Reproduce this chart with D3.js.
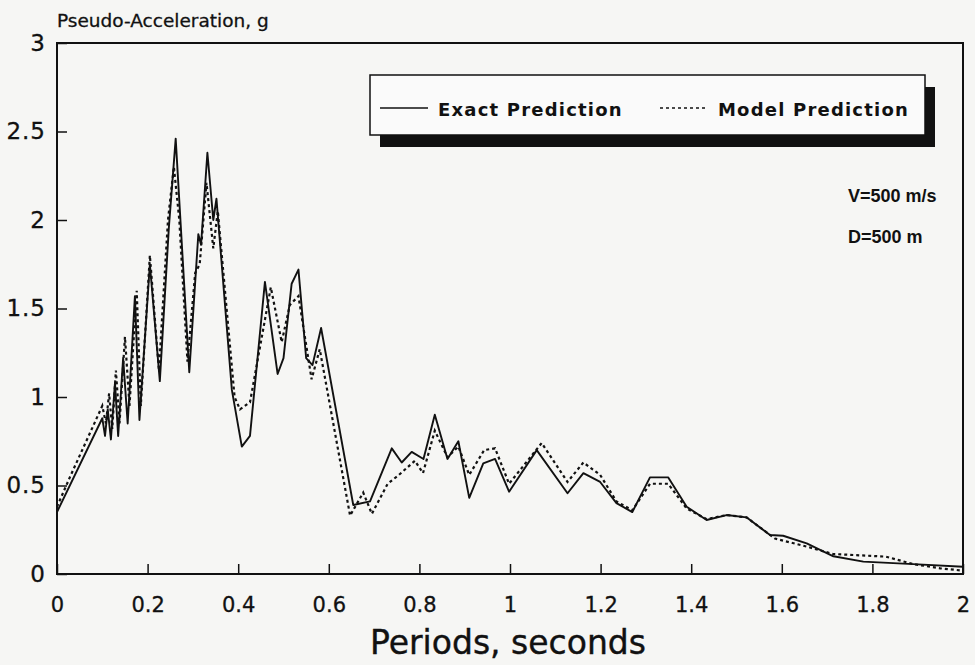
<!DOCTYPE html>
<html>
<head>
<meta charset="utf-8">
<script src="https://cdn.jsdelivr.net/npm/d3@7"></script>
<style>
  body { margin: 0; background: #f6f6f4; }
  text { font-family: "DejaVu Sans", sans-serif; fill: #111; }
</style>
</head>
<body>
<div id="cnt"></div>
<script>
// periods (s) and pseudo-acceleration (g)
let exactT = [0, 0.1, 0.106, 0.112, 0.119, 0.128, 0.135, 0.146, 0.156, 0.172, 0.182, 0.205, 0.227, 0.247, 0.262,
  0.292, 0.312, 0.318, 0.332, 0.345, 0.352, 0.386, 0.408, 0.426, 0.459, 0.487, 0.5, 0.518, 0.533, 0.55, 0.564,
  0.583, 0.654, 0.691, 0.739, 0.761, 0.783, 0.809, 0.834, 0.862, 0.886, 0.91, 0.941, 0.967, 0.998, 1.059, 1.127,
  1.162, 1.199, 1.235, 1.27, 1.309, 1.349, 1.39, 1.434, 1.478, 1.522, 1.574, 1.603, 1.655, 1.714, 1.78, 1.89, 2.0];
let exactA = [0.35, 0.88, 0.78, 0.93, 0.76, 1.08, 0.78, 1.22, 0.85, 1.57, 0.87, 1.75, 1.09, 1.96, 2.46,
  1.14, 1.92, 1.86, 2.38, 2.0, 2.12, 1.04, 0.72, 0.78, 1.65, 1.13, 1.22, 1.64, 1.72, 1.22, 1.18,
  1.39, 0.39, 0.41, 0.71, 0.63, 0.69, 0.65, 0.9, 0.65, 0.75, 0.43, 0.625, 0.65, 0.465, 0.7, 0.456,
  0.57, 0.52, 0.4, 0.35, 0.546, 0.546, 0.38, 0.305, 0.333, 0.32, 0.22, 0.216, 0.173, 0.1, 0.07, 0.056, 0.041];

let modelT = [0, 0.029, 0.1, 0.108, 0.115, 0.122, 0.13, 0.138, 0.15, 0.16, 0.176, 0.185, 0.205, 0.225, 0.245,
  0.258, 0.27, 0.288, 0.305, 0.315, 0.33, 0.345, 0.355, 0.392, 0.404, 0.426, 0.472, 0.496, 0.514, 0.533, 0.562,
  0.58, 0.647, 0.676, 0.695, 0.73, 0.755, 0.79, 0.808, 0.834, 0.862, 0.886, 0.91, 0.943, 0.967, 0.998, 1.07,
  1.127, 1.162, 1.199, 1.235, 1.27, 1.309, 1.349, 1.39, 1.434, 1.478, 1.522, 1.585, 1.655, 1.713, 1.83, 1.89, 1.95, 2.0];
let modelA = [0.38, 0.55, 0.95, 0.85, 1.02, 0.82, 1.15, 0.85, 1.34, 0.95, 1.6, 0.95, 1.8, 1.15, 2.0,
  2.3, 2.0, 1.2, 1.7, 1.75, 2.21, 1.84, 2.05, 1.0, 0.93, 0.97, 1.62, 1.31, 1.52, 1.57, 1.1,
  1.27, 0.33, 0.46, 0.34, 0.51, 0.56, 0.64, 0.57, 0.81, 0.66, 0.72, 0.56, 0.7, 0.71, 0.51, 0.74,
  0.52, 0.63, 0.56, 0.41, 0.36, 0.51, 0.51, 0.37, 0.31, 0.333, 0.32, 0.2, 0.155, 0.113, 0.098, 0.056, 0.032, 0.019];

let xTicks = [0, 0.2, 0.4, 0.6, 0.8, 1, 1.2, 1.4, 1.6, 1.8, 2];
let yTicks = [0, 0.5, 1, 1.5, 2, 2.5, 3];
let nombres = ["Exact Prediction", "Model Prediction"];
let notas = ["V=500 m/s", "D=500 m"];

let ancho = 975;
let largo = 665;
let m = {left: 57, right: 963, top: 43, bottom: 574};

let svg = d3.select('#cnt')
  .append("svg")
  .attr('width', ancho)
  .attr('height', largo);

let x = d3.scaleLinear().domain([0, 2]).range([m.left, m.right]);
let y = d3.scaleLinear().domain([0, 3]).range([m.bottom, m.top]);

// ejes con ticks hacia dentro
let ejeX = svg.append("g")
  .attr("transform", "translate(0," + m.bottom + ")")
  .call(d3.axisBottom(x).tickValues(xTicks).tickSize(-10).tickPadding(20)
    .tickFormat(d => d3.format("")(d)));
let ejeY = svg.append("g")
  .attr("transform", "translate(" + m.left + ",0)")
  .call(d3.axisLeft(y).tickValues(yTicks).tickSize(-10).tickPadding(10)
    .tickFormat(d => d3.format("")(d)));

[ejeX, ejeY].forEach(e => {
  e.select(".domain").remove();
  e.selectAll("line").attr("stroke", "#111").attr("stroke-width", 1.5);
  e.selectAll("text").style("font-size", "21px").style("font-family", "DejaVu Sans, sans-serif")
    .attr("fill", "#111").attr("stroke", "#111").attr("stroke-width", 0.3);
});
ejeX.selectAll("text").attr("dy", "0.71em").attr("y", 23);
ejeY.selectAll("text").attr("x", -11).style("font-size", "23px").style("letter-spacing", "1px");

// marco
svg.append("rect")
  .attr('x', m.left)
  .attr('y', m.top)
  .attr('width', m.right - m.left)
  .attr('height', m.bottom - m.top)
  .style('fill', 'none')
  .style('stroke', '#111')
  .style('stroke-width', 2);

let linea = d3.line().x(d => x(d[0])).y(d => y(d[1]));

svg.append("path")
  .datum(d3.zip(exactT, exactA))
  .attr("d", linea)
  .attr("fill", "none")
  .attr("stroke", "#111")
  .attr("stroke-width", 1.9)
  .attr("stroke-linejoin", "round");

svg.append("path")
  .datum(d3.zip(modelT, modelA))
  .attr("d", linea)
  .attr("fill", "none")
  .attr("stroke", "#111")
  .attr("stroke-width", 2.2)
  .attr("stroke-dasharray", "3,3");

// titulos
svg.append("text")
  .text("Pseudo-Acceleration, g")
  .attr("x", 57)
  .attr("y", 27)
  .style("font-size", "18.5px")
  .attr("stroke", "#111").attr("stroke-width", 0.3);

svg.append("text")
  .text("Periods, seconds")
  .attr("x", (m.left + m.right) / 2 - 2)
  .attr("y", 654)
  .attr("text-anchor", "middle")
  .style("font-size", "33px")
  .attr("stroke", "#111").attr("stroke-width", 0.4);

// leyenda con sombra
svg.append("rect")
  .attr('x', 380).attr('y', 87)
  .attr('width', 555).attr('height', 60)
  .style('fill', '#111');
svg.append("rect")
  .attr('x', 370).attr('y', 75)
  .attr('width', 555).attr('height', 60)
  .style('fill', '#fafafa')
  .style('stroke', '#111')
  .style('stroke-width', 1.5);

let leg = [{x: 380, dash: null}, {x: 660, dash: "3,3"}];
leg.forEach((l, i) => {
  svg.append("line")
    .attr("x1", l.x).attr("x2", l.x + 48)
    .attr("y1", 108).attr("y2", 108)
    .attr("stroke", "#111")
    .attr("stroke-width", 1.5)
    .attr("stroke-dasharray", l.dash);
  svg.append("text")
    .text(nombres[i])
    .attr("x", l.x + 58)
    .attr("y", 116)
    .style("font-size", "18px")
    .style("letter-spacing", "1.2px")
    .style("font-weight", "bold");
});

notas.forEach((t, i) => {
  svg.append("text")
    .text(t)
    .attr("x", 848)
    .attr("y", 202 + i * 41)
    .style("font-family", "Liberation Sans, Arial, sans-serif")
    .style("font-size", "18px")
    .style("font-weight", "bold");
});
</script>
</body>
</html>
